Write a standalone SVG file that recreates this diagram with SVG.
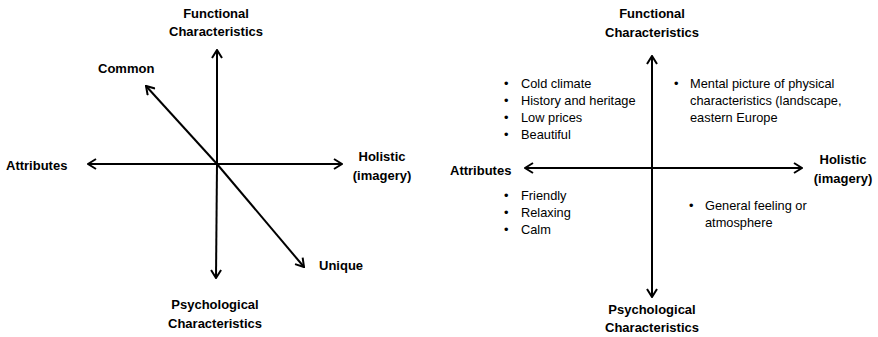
<svg xmlns="http://www.w3.org/2000/svg" width="878" height="337" viewBox="0 0 878 337">
  <style>
    .lbl { font-family: "Liberation Sans", Arial, sans-serif; font-weight: bold; font-size: 13px; fill: #000; }
    .item { font-family: "Liberation Sans", Arial, sans-serif; font-size: 12.8px; fill: #000; }
    .axis { stroke: #000; stroke-width: 2; fill: none; marker-end: url(#open); }
  </style>
  <defs>
    <marker id="open" viewBox="0 0 12 12" refX="11" refY="6" markerWidth="12" markerHeight="12" markerUnits="userSpaceOnUse" orient="auto">
      <path d="M3,1 L11,6 L3,11" fill="none" stroke="#000" stroke-width="2"/>
    </marker>
  </defs>

  <!-- left chart -->
  <g id="connectors-left">
    <line class="axis" x1="217" y1="164" x2="217" y2="50"/>
    <line class="axis" x1="217" y1="164" x2="216" y2="278"/>
    <line class="axis" x1="217" y1="164" x2="88" y2="164"/>
    <line class="axis" x1="217" y1="164" x2="342" y2="164"/>
    <line class="axis" x1="217" y1="164" x2="146" y2="86"/>
    <line class="axis" x1="217" y1="164" x2="304" y2="267"/>
  </g>
  <g id="left-functional"><text class="lbl" x="216" y="18" text-anchor="middle">Functional</text><text class="lbl" x="216" y="36" text-anchor="middle">Characteristics</text></g>
  <g id="left-common"><text class="lbl" x="98" y="73">Common</text></g>
  <g id="left-attributes"><text class="lbl" x="6" y="170">Attributes</text></g>
  <g id="left-holistic"><text class="lbl" x="382" y="161" text-anchor="middle">Holistic</text><text class="lbl" x="382" y="180" text-anchor="middle">(imagery)</text></g>
  <g id="left-unique"><text class="lbl" x="319" y="270">Unique</text></g>
  <g id="left-psychological"><text class="lbl" x="215" y="309" text-anchor="middle">Psychological</text><text class="lbl" x="215" y="328" text-anchor="middle">Characteristics</text></g>

  <!-- right chart -->
  <g id="connectors-right">
    <line class="axis" x1="652" y1="168" x2="652" y2="56"/>
    <line class="axis" x1="652" y1="168" x2="652" y2="297"/>
    <line class="axis" x1="652" y1="168" x2="525" y2="168"/>
    <line class="axis" x1="652" y1="168" x2="802" y2="168"/>
  </g>
  <g id="right-functional"><text class="lbl" x="652" y="18" text-anchor="middle">Functional</text><text class="lbl" x="652" y="37" text-anchor="middle">Characteristics</text></g>
  <g id="right-attributes"><text class="lbl" x="450" y="175">Attributes</text></g>
  <g id="right-holistic"><text class="lbl" x="843" y="164" text-anchor="middle">Holistic</text><text class="lbl" x="843" y="183" text-anchor="middle">(imagery)</text></g>
  <g id="right-psychological"><text class="lbl" x="652" y="314" text-anchor="middle">Psychological</text><text class="lbl" x="652" y="332" text-anchor="middle">Characteristics</text></g>

  <g id="quadrant-functional-attributes" class="item">
    <text x="504" y="88">•</text><text x="521" y="88">Cold climate</text>
    <text x="504" y="105">•</text><text x="521" y="105">History and heritage</text>
    <text x="504" y="122">•</text><text x="521" y="122">Low prices</text>
    <text x="504" y="139">•</text><text x="521" y="139">Beautiful</text>
  </g>
  <g id="quadrant-functional-holistic" class="item">
    <text x="674" y="88">•</text><text x="690" y="88">Mental picture of physical</text>
    <text x="690" y="105">characteristics (landscape,</text>
    <text x="690" y="122">eastern Europe</text>
  </g>
  <g id="quadrant-psychological-attributes" class="item">
    <text x="504" y="200">•</text><text x="521" y="200">Friendly</text>
    <text x="504" y="217">•</text><text x="521" y="217">Relaxing</text>
    <text x="504" y="234">•</text><text x="521" y="234">Calm</text>
  </g>
  <g id="quadrant-psychological-holistic" class="item">
    <text x="689" y="210">•</text><text x="705" y="210">General feeling or</text>
    <text x="705" y="227">atmosphere</text>
  </g>
</svg>
